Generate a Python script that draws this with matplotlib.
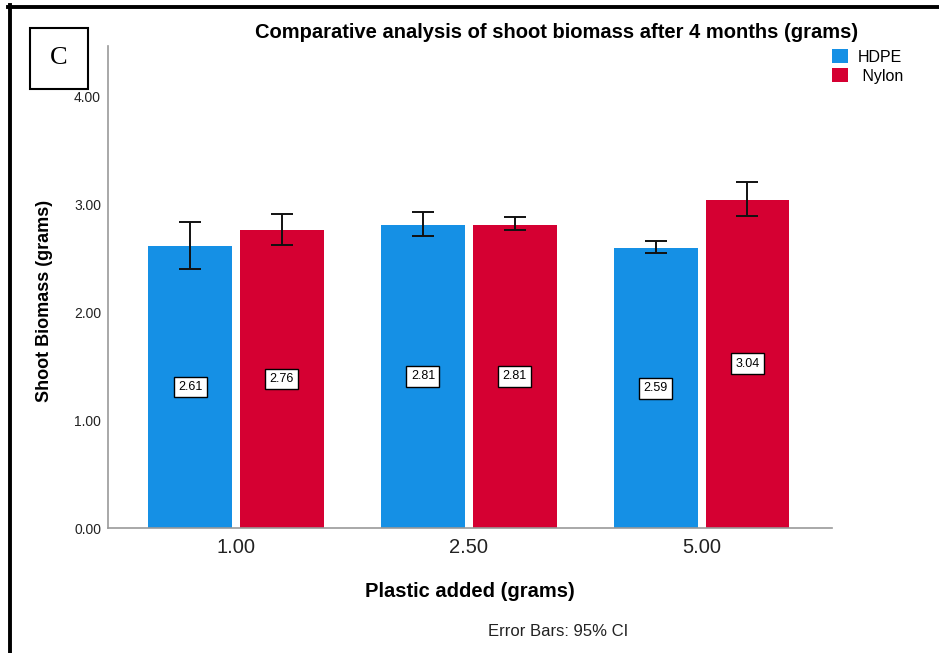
import matplotlib
matplotlib.use("Agg")
import matplotlib.pyplot as plt
from matplotlib.patches import Rectangle, Patch
from matplotlib.lines import Line2D
import numpy as np

plt.rcParams['font.family'] = ['Liberation Sans', 'DejaVu Sans']

# Data
categories = ["1.00", "2.50", "5.00"]
series = ["HDPE", " Nylon"]
hdpe_mean = [2.61, 2.81, 2.59]
nylon_mean = [2.76, 2.81, 3.04]
hdpe_ci_low = [2.40, 2.70, 2.55]
hdpe_ci_high = [2.83, 2.93, 2.66]
nylon_ci_low = [2.62, 2.76, 2.89]
nylon_ci_high = [2.91, 2.88, 3.20]
y_ticks = [0.0, 1.0, 2.0, 3.0, 4.0]

colors = ["#1590E5", "#D50032"]

W, H = 939, 653
fig = plt.figure(figsize=(W / 100, H / 100), dpi=100)
fig.patch.set_facecolor("white")

ax = fig.add_axes([108 / W, 1 - 528 / H, (832 - 108) / W, (528 - 46) / H])

x = np.arange(len(categories))
bw = 0.36
off = 0.197

for means, lo, hi, col, sign in [
    (hdpe_mean, hdpe_ci_low, hdpe_ci_high, colors[0], -1),
    (nylon_mean, nylon_ci_low, nylon_ci_high, colors[1], 1),
]:
    xs = x + sign * off
    ax.bar(xs, means, width=bw, color=col, zorder=2)
    means_a = np.array(means)
    yerr = np.vstack([means_a - np.array(lo), np.array(hi) - means_a])
    ax.errorbar(xs, means, yerr=yerr, fmt="none", ecolor="#111111",
                elinewidth=1.4, capsize=8, capthick=1.4, zorder=3)
    for xi, m in zip(xs, means):
        ax.text(xi, m / 2, f"{m:.2f}", ha="center", va="center", fontsize=9,
                zorder=4,
                bbox=dict(boxstyle="square,pad=0.35", facecolor="white",
                          edgecolor="black", linewidth=1.0))

ax.set_xlim(-0.55, 2.56)
ax.set_ylim(0, 4.463)
ax.set_xticks(x)
ax.set_xticklabels(categories, fontsize=14.5, color="#222222")
ax.set_yticks(y_ticks)
ax.set_yticklabels([f"{v:.2f}" for v in y_ticks], fontsize=10, color="#222222")
ax.tick_params(axis="both", length=0)
ax.tick_params(axis="x", pad=7)
ax.tick_params(axis="y", pad=5)
for s in ["top", "right"]:
    ax.spines[s].set_visible(False)
for s in ["left", "bottom"]:
    ax.spines[s].set_color("#999999")
    ax.spines[s].set_linewidth(1.2)

ax.set_xlabel("Plastic added (grams)", fontsize=14.5, fontweight="bold", labelpad=18)
fig.text(45 / W, 1 - 301 / H, "Shoot Biomass (grams)", rotation=90, ha="center",
         va="center", fontsize=13, fontweight="bold")

fig.text(557 / W, 1 - 32 / H, "Comparative analysis of shoot biomass after 4 months (grams)",
         ha="center", va="center", fontsize=14.5, fontweight="bold")

fig.text(558 / W, 1 - 632 / H, "Error Bars: 95% CI", ha="center", va="center",
         fontsize=12, color="#222222")

handles = [Patch(facecolor=c, edgecolor="none") for c in colors]
fig.legend(handles, series, loc="upper left", bbox_to_anchor=(821 / W, 1 - 38 / H),
           frameon=False, fontsize=11.5, handlelength=1.0, handleheight=1.0,
           handletextpad=0.6, labelspacing=0.2, borderpad=0.2)

# Panel letter box
fig.add_artist(Rectangle((30 / W, 1 - 89 / H), 58 / W, 61 / H, transform=fig.transFigure,
                         facecolor="white", edgecolor="black", linewidth=1.5, zorder=5))
fig.text(59 / W, 1 - 58 / H, "C", ha="center", va="center", fontsize=19,
         family=["Liberation Serif", "DejaVu Serif"], zorder=6)

# Outer frame lines (top and left)
fig.add_artist(Line2D([8 / W, 1], [1 - 6.5 / H, 1 - 6.5 / H], transform=fig.transFigure,
                      color="black", linewidth=2.8))
fig.add_artist(Line2D([9.5 / W, 9.5 / W], [0, 1 - 5 / H], transform=fig.transFigure,
                      color="black", linewidth=2.8))

fig.savefig("out.png", dpi=100, facecolor="white")
